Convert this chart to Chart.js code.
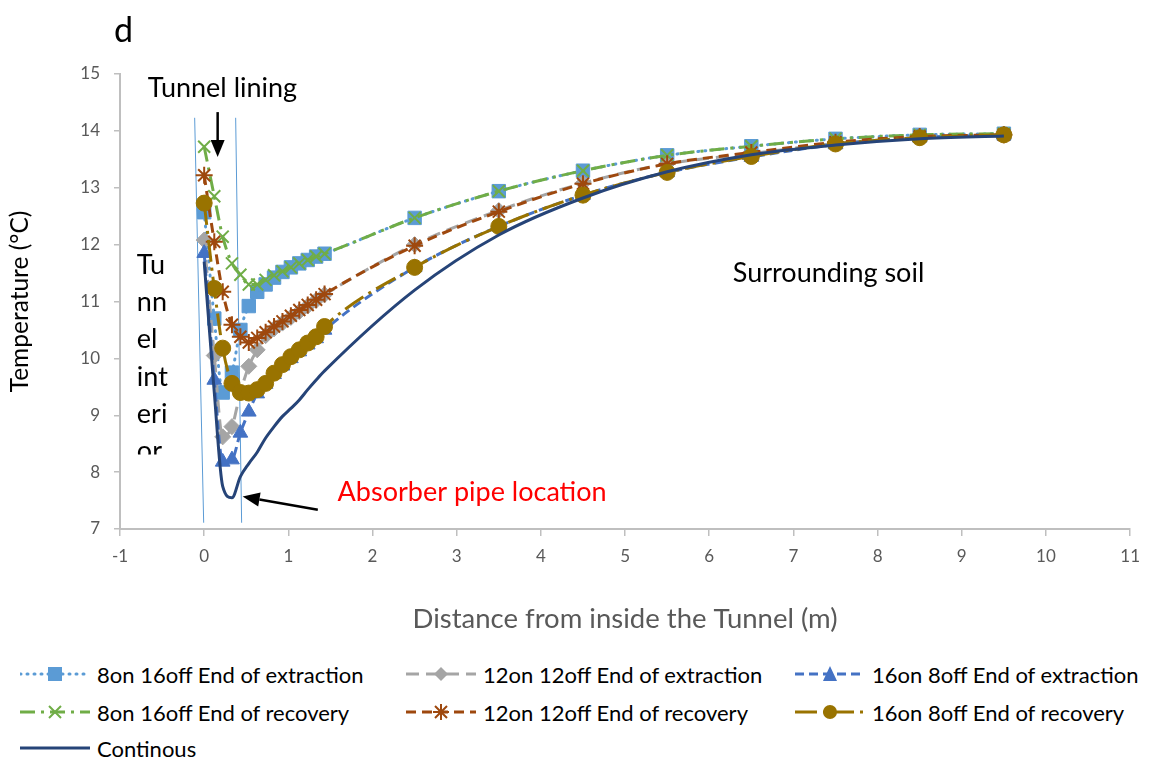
<!DOCTYPE html>
<html>
<head>
<meta charset="utf-8">
<script src="https://cdn.jsdelivr.net/npm/chart.js@4.4.1/dist/chart.umd.min.js"></script>
<style>
  html, body { margin: 0; padding: 0; background: #fff; }
  #wrap { position: relative; width: 1150px; height: 760px; font-family: Lato, "Open Sans", sans-serif; overflow: hidden; }
  #chart { position: absolute; left: 0; top: 0; }
  #panel { position: absolute; left: 114px; top: 9px; font-size: 34px; line-height: 40px; color: #000; }
  .item { position: absolute; height: 30px; display: flex; align-items: center; font-size: 22px; color: #000; white-space: nowrap; }
  .item svg { margin-right: 7px; }
</style>
</head>
<body>
<div id="wrap">
  <canvas id="chart" width="1150" height="650"></canvas>
  <div id="panel">d</div>
  <div id="legend"></div>
</div>
<script>
// distance from inside the tunnel (m), shared by every series
const DIST = [0, 0.12, 0.22, 0.33, 0.43, 0.53, 0.63, 0.73, 0.83, 0.93, 1.03, 1.13, 1.23, 1.33, 1.43,
  2.5, 3.5, 4.5, 5.5, 6.5, 7.5, 8.5, 9.5];

// temperatures (°C)
const EXT_8ON = [12.57, 10.70, 9.40, 9.75, 10.50, 10.92, 11.17, 11.30, 11.42, 11.52, 11.60, 11.67, 11.73, 11.79, 11.84,
  12.47, 12.94, 13.30, 13.57, 13.73, 13.86, 13.93, 13.95];
const EXT_12ON = [12.08, 10.05, 8.62, 8.80, 9.40, 9.86, 10.15, 10.40, 10.52, 10.62, 10.72, 10.82, 10.92, 11.02, 11.12,
  12.00, 12.60, 13.08, 13.42, 13.60, 13.78, 13.88, 13.93];
const EXT_16ON = [11.85, 9.62, 8.18, 8.22, 8.69, 9.06, 9.38, 9.55, 9.72, 9.87, 10.00, 10.12, 10.24, 10.35, 10.50,
  11.60, 12.32, 12.87, 13.27, 13.54, 13.76, 13.88, 13.93];
const REC_8ON = [13.72, 12.85, 12.14, 11.67, 11.47, 11.30, 11.30, 11.38, 11.46, 11.53, 11.60, 11.67, 11.73, 11.79, 11.84,
  12.47, 12.94, 13.30, 13.57, 13.73, 13.86, 13.93, 13.95];
const REC_12ON = [13.22, 12.05, 11.17, 10.59, 10.38, 10.28, 10.36, 10.46, 10.56, 10.65, 10.75, 10.85, 10.94, 11.03, 11.13,
  11.98, 12.58, 13.07, 13.42, 13.62, 13.80, 13.90, 13.93];
const REC_16ON = [12.73, 11.23, 10.18, 9.56, 9.40, 9.39, 9.45, 9.56, 9.74, 9.89, 10.03, 10.15, 10.27, 10.38, 10.56,
  11.60, 12.32, 12.87, 13.27, 13.55, 13.77, 13.88, 13.93];
const CONTINUOUS = [11.70, 9.40, 7.75, 7.55, 7.92, 8.15, 8.35, 8.60, 8.80, 8.98, 9.12, 9.27, 9.45, 9.62, 9.78,
  11.20, 12.17, 12.82, 13.28, 13.58, 13.75, 13.86, 13.91];

const SERIES_NAMES = [
  "8on 16off End of extraction", "12on 12off End of extraction", "16on 8off End of extraction",
  "8on 16off End of recovery", "12on 12off End of recovery", "16on 8off End of recovery",
  "Continous",
];
const SERIES_VALUES = [EXT_8ON, EXT_12ON, EXT_16ON, REC_8ON, REC_12ON, REC_16ON, CONTINUOUS];

const X_TICKS = { min: -1, max: 11, step: 1 };
const Y_TICKS = { min: 7, max: 15, step: 1 };

// look of each series (same order as SERIES_NAMES)
const STYLE = [
  { color: "#5B9BD5", dash: [1, 6], cap: "round", point: "rect", r: 9.5, order: 6 },
  { color: "#A5A5A5", dash: [13, 7], cap: "butt", point: "rectRot", r: 8, order: 5 },
  { color: "#4472C4", dash: [9, 5], cap: "butt", point: "triangle", r: 8.5, order: 4 },
  { color: "#70AD47", dash: [15, 6, 3, 6], cap: "butt", point: "crossRot", r: 8.5, order: 3 },
  { color: "#9E480E", dash: [10, 6], cap: "butt", point: "star", r: 8.5, order: 2 },
  { color: "#997300", dash: [22, 6, 3, 6], cap: "butt", point: "circle", r: 8, order: 1 },
  { color: "#264478", dash: [], cap: "butt", point: false, r: 0, order: 0 },
];

// annotation shapes, in data units
const LINING_LINES = [[-0.113, 14.23, -0.006, 7.11], [0.374, 14.23, 0.445, 7.11]];
const ARROWS = [[0.16, 14.33, 0.16, 13.54], [1.35, 7.34, 0.457, 7.57]];
const LABELS = [
  { text: "Tunnel lining", x: -0.67, y: 14.75, color: "#000" },
  { text: "Surrounding soil", x: 6.28, y: 11.5, color: "#000" },
  { text: "Absorber pipe location", x: 1.585, y: 7.65, color: "#FF0000" },
];
const INTERIOR_LINES = ["Tu", "nn", "el", "int", "eri", "or"];
const INTERIOR_Y = [11.64, 10.99, 10.33, 9.66, 9.01, 8.36];

const annotate = {
  id: "annotate",
  beforeDatasetsDraw(chart) {
    const { ctx, scales: { x, y } } = chart;
    ctx.save();
    ctx.strokeStyle = "#5B9BD5";
    ctx.lineWidth = 1;
    LINING_LINES.forEach(([x0, y0, x1, y1]) => {
      ctx.beginPath();
      ctx.moveTo(x.getPixelForValue(x0), y.getPixelForValue(y0));
      ctx.lineTo(x.getPixelForValue(x1), y.getPixelForValue(y1));
      ctx.stroke();
    });
    ctx.restore();
  },
  afterDatasetsDraw(chart) {
    const { ctx, chartArea, scales: { x, y } } = chart;
    ctx.save();
    ctx.strokeStyle = "#000";
    ctx.fillStyle = "#000";
    ctx.lineWidth = 2.5;
    ARROWS.forEach(([x0, y0, x1, y1]) => {
      const ax = x.getPixelForValue(x0), ay = y.getPixelForValue(y0);
      const bx = x.getPixelForValue(x1), by = y.getPixelForValue(y1);
      const ang = Math.atan2(by - ay, bx - ax);
      const len = 17, half = 7;
      const hx = bx - Math.cos(ang) * len, hy = by - Math.sin(ang) * len;
      ctx.beginPath();
      ctx.moveTo(ax, ay);
      ctx.lineTo(hx, hy);
      ctx.stroke();
      ctx.beginPath();
      ctx.moveTo(bx, by);
      ctx.lineTo(hx - Math.sin(ang) * half, hy + Math.cos(ang) * half);
      ctx.lineTo(hx + Math.sin(ang) * half, hy - Math.cos(ang) * half);
      ctx.closePath();
      ctx.fill();
    });

    ctx.font = "27px Lato";
    ctx.textBaseline = "middle";
    ctx.textAlign = "left";
    LABELS.forEach((l) => {
      ctx.fillStyle = l.color;
      ctx.fillText(l.text, x.getPixelForValue(l.x), y.getPixelForValue(l.y));
    });

    // "Tunnel interior" text box, cut off at its bottom edge
    ctx.beginPath();
    ctx.rect(chartArea.left, chartArea.top, 100, y.getPixelForValue(8.31) - chartArea.top);
    ctx.clip();
    ctx.fillStyle = "#000";
    INTERIOR_LINES.forEach((t, i) => {
      ctx.fillText(t, x.getPixelForValue(-0.8), y.getPixelForValue(INTERIOR_Y[i]));
    });
    ctx.restore();
  },
};

const datasets = SERIES_NAMES.map((name, i) => {
  const s = STYLE[i];
  const hollow = s.point === "crossRot" || s.point === "star";
  return {
    label: name,
    data: DIST.map((d, k) => ({ x: d, y: SERIES_VALUES[i][k] })),
    borderColor: s.color,
    borderWidth: 3,
    borderDash: s.dash,
    borderCapStyle: s.cap,
    cubicInterpolationMode: "monotone",
    pointStyle: s.point,
    pointRadius: s.r,
    pointBackgroundColor: s.color,
    pointBorderColor: s.color,
    pointBorderWidth: hollow ? 2 : 1,
    order: s.order,
    fill: false,
  };
});

const tickFont = { family: "Lato", size: 17 };

new Chart(document.getElementById("chart"), {
  type: "line",
  data: { datasets },
  options: {
    responsive: false,
    animation: false,
    layout: { padding: { top: 74, right: 19, left: 0, bottom: 0 } },
    plugins: { legend: { display: false }, tooltip: { enabled: false } },
    scales: {
      x: {
        type: "linear",
        min: X_TICKS.min,
        max: X_TICKS.max,
        ticks: { stepSize: X_TICKS.step, color: "#595959", font: tickFont, padding: 10 },
        grid: { drawOnChartArea: false, drawTicks: true, tickLength: 7, color: "#BFBFBF", lineWidth: 1.5 },
        border: { color: "#BFBFBF", width: 2 },
        title: {
          display: true,
          text: "Distance from inside the Tunnel (m)",
          color: "#595959",
          font: { family: "Lato", size: 27.5 },
          padding: { top: 0, bottom: 14 },
        },
        afterFit: (s) => { s.height = 121; },
      },
      y: {
        min: Y_TICKS.min,
        max: Y_TICKS.max,
        ticks: { stepSize: Y_TICKS.step, color: "#595959", font: tickFont, padding: 14 },
        grid: { drawOnChartArea: false, drawTicks: true, tickLength: 6, color: "#BFBFBF", lineWidth: 1.5 },
        border: { color: "#BFBFBF", width: 2 },
        title: {
          display: true,
          text: "Temperature (°C)",
          color: "#000",
          font: { family: "Lato", size: 24.5 },
          padding: { top: 5, bottom: 0 },
        },
        afterFit: (s) => { s.width = 120; },
      },
    },
  },
  plugins: [annotate],
});

// legend: 3 columns x 3 rows under the plot
const LEGEND_COLS = [20, 406, 795];
const LEGEND_ROWS = [674, 712, 748];

function markerSvg(s) {
  const c = s.color;
  switch (s.point) {
    case "rect": return `<rect x="28" y="3" width="14" height="14" fill="${c}"/>`;
    case "rectRot": return `<polygon points="35,3 42,10 35,17 28,10" fill="${c}"/>`;
    case "triangle": return `<polygon points="35,2 42,17 28,17" fill="${c}"/>`;
    case "crossRot": return `<path d="M29,4 L41,16 M41,4 L29,16" stroke="${c}" stroke-width="2"/>`;
    case "star": return `<path d="M35,2 L35,18 M27,10 L43,10 M29,4 L41,16 M41,4 L29,16" stroke="${c}" stroke-width="2"/>`;
    case "circle": return `<circle cx="35" cy="10" r="7" fill="${c}"/>`;
    default: return "";
  }
}

const legend = document.getElementById("legend");
SERIES_NAMES.forEach((name, i) => {
  const s = STYLE[i];
  const dash = s.dash.length ? `stroke-dasharray="${s.dash.join(" ")}"` : "";
  const el = document.createElement("div");
  el.className = "item";
  el.style.left = LEGEND_COLS[i % 3] + "px";
  el.style.top = (LEGEND_ROWS[Math.floor(i / 3)] - 15) + "px";
  el.innerHTML =
    `<svg width="70" height="20"><line x1="0" y1="10" x2="70" y2="10" stroke="${s.color}" stroke-width="3" ` +
    `stroke-linecap="${s.cap}" ${dash}/>${markerSvg(s)}</svg><span>${name}</span>`;
  legend.appendChild(el);
});
</script>
</body>
</html>
